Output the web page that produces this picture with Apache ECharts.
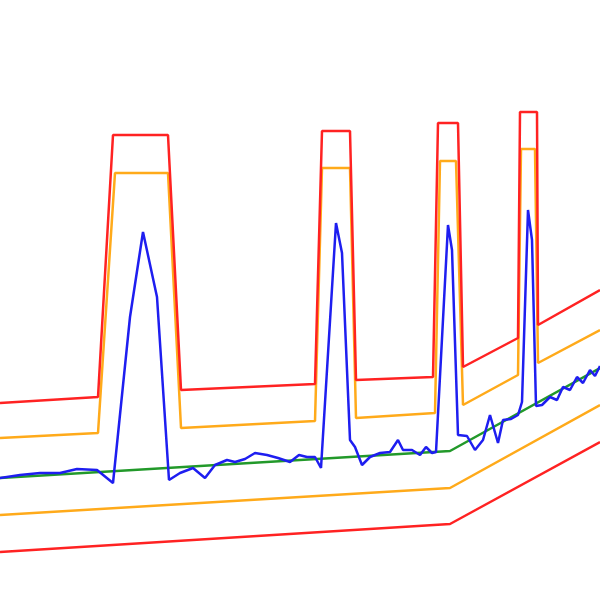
<!DOCTYPE html>
<html>
<head>
<meta charset="utf-8">
<script src="https://cdn.jsdelivr.net/npm/echarts@6/dist/echarts.min.js"></script>
<style>html,body{margin:0;padding:0;background:#fff}#c{width:600px;height:600px}</style>
</head>
<body>
<div id="c"></div>
<script>
// baseline (trend)
const baselineX = [0, 450, 600];
const baselineY = [122, 149, 232];
// lower bands
const lowerInnerX = [0, 450, 600];
const lowerInnerY = [85, 112, 195];
const lowerOuterX = [0, 450, 600];
const lowerOuterY = [48, 76, 158];
// upper bands with pulse windows
const upperOuterX = [0, 98, 113, 168, 181, 315, 322, 350, 356, 433, 438, 458, 463, 518, 520, 537, 538, 600];
const upperOuterY = [197, 203, 465, 465, 210, 216, 469, 469, 220, 223, 477, 477, 233, 262, 488, 488, 275, 310];
const upperInnerX = [0, 98, 115, 168, 181, 315, 322, 350, 356, 435, 440, 456, 463, 518, 521, 535, 538, 600];
const upperInnerY = [162, 167, 427, 427, 172, 179, 432, 432, 182, 187, 439, 439, 195, 225, 451, 451, 237, 270];
// measured signal
const signalX = [0, 20, 40, 60, 77, 97, 113, 130, 143, 157, 169, 180, 193, 205, 215, 227, 235, 245, 255, 267, 278, 290, 299, 307, 315, 321, 336, 342, 350, 355, 362, 370, 380, 390, 398, 403, 412, 420, 426, 432, 436, 448, 452, 458, 467, 475, 483, 490, 498, 503, 511, 518, 522, 528, 532, 536, 542, 550, 557, 563, 570, 577, 583, 590, 595, 600];
const signalY = [122, 125, 127, 127, 131, 130, 117, 283, 368, 303, 120, 127, 132, 122, 135, 140, 138, 141, 147, 145, 142, 138, 145, 143, 143, 132, 377, 347, 160, 153, 135, 143, 147, 148, 160, 150, 150, 145, 153, 147, 148, 375, 350, 165, 164, 150, 160, 185, 157, 180, 181, 185, 198, 390, 360, 194, 195, 203, 200, 213, 210, 223, 217, 230, 224, 234];

function pairs(xs, ys) { return xs.map((x, i) => [x, ys[i]]); }
function line(name, xs, ys, color, z) {
  return { name, type: 'line', data: pairs(xs, ys), showSymbol: false, symbol: 'none',
    lineStyle: { color, width: 2.5 }, itemStyle: { color }, z, silent: true };
}

const chart = echarts.init(document.getElementById('c'), null, { renderer: 'canvas' });
chart.setOption({
  animation: false,
  backgroundColor: '#ffffff',
  grid: { left: 0, right: 0, top: 0, bottom: 0 },
  xAxis: { type: 'value', min: 0, max: 600, show: false },
  yAxis: { type: 'value', min: 0, max: 600, show: false },
  series: [
    line('baseline', baselineX, baselineY, '#22992a', 2),
    line('lowerInner', lowerInnerX, lowerInnerY, '#ffaa1a', 2),
    line('lowerOuter', lowerOuterX, lowerOuterY, '#ff2222', 2),
    line('upperInner', upperInnerX, upperInnerY, '#ffaa1a', 3),
    line('upperOuter', upperOuterX, upperOuterY, '#ff2222', 3),
    line('signal', signalX, signalY, '#1e1ef0', 4)
  ]
});
</script>
</body>
</html>
